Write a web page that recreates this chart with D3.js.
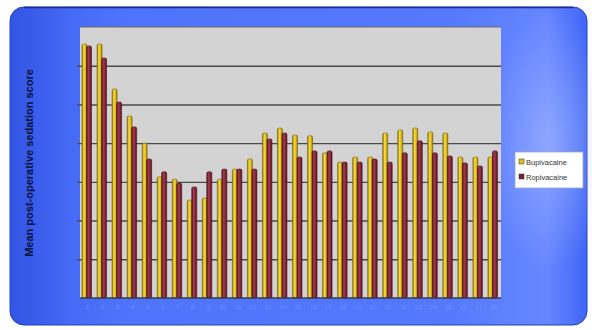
<!DOCTYPE html>
<html>
<head>
<meta charset="utf-8">
<script src="https://cdn.jsdelivr.net/npm/d3@7"></script>
<style>
  html, body { margin: 0; padding: 0; background: #ffffff; }
  svg { display: block; }
</style>
</head>
<body>
<svg id="chart" width="592" height="330"></svg>
<script>
// Observation points along the x axis
const categories = ["1","2","3","4","5","6","7","8","9","10","11","12","13","14",
                    "15","16","17","18","19","20","21","22","23","24","25","26","27","28"];
// Mean sedation score per observation point
const bupivacaine = [6.56, 6.56, 5.40, 4.70, 4.00, 3.13, 3.07, 2.53, 2.58, 3.07, 3.33, 3.59, 4.26, 4.39,
                     4.21, 4.19, 3.75, 3.51, 3.64, 3.64, 4.26, 4.34, 4.39, 4.29, 4.26, 3.64, 3.64, 3.64];
const ropivacaine = [6.51, 6.20, 5.06, 4.42, 3.59, 3.26, 2.97, 2.87, 3.26, 3.33, 3.33, 3.33, 4.11, 4.26,
                     3.64, 3.80, 3.80, 3.51, 3.51, 3.59, 3.51, 3.75, 4.06, 3.75, 3.67, 3.49, 3.41, 3.80];
const seriesNames = ["Bupivacaine", "Ropivacaine"];
const yTicks = [0, 1, 2, 3, 4, 5, 6, 7];
const yTitle = "Mean post-operative sedation score";

const svg = d3.select("#chart");
const defs = svg.append("defs");

// Blue panel gradient: darker on the left, glowing towards the right
const pg = defs.append("linearGradient").attr("id", "panelGrad")
  .attr("x1", "0").attr("x2", "1").attr("y1", "0").attr("y2", "0");
pg.append("stop").attr("offset", "0").attr("stop-color", "#3c60f0");
pg.append("stop").attr("offset", "0.2").attr("stop-color", "#4e74fb");
pg.append("stop").attr("offset", "0.75").attr("stop-color", "#5479fd");
pg.append("stop").attr("offset", "0.93").attr("stop-color", "#6686ff");
pg.append("stop").attr("offset", "1").attr("stop-color", "#4066f6");

const glow = defs.append("radialGradient").attr("id", "glow")
  .attr("cx", "0.5").attr("cy", "0.5").attr("r", "0.5");
glow.append("stop").attr("offset", "0").attr("stop-color", "#b8c8ff").attr("stop-opacity", 0.5);
glow.append("stop").attr("offset", "1").attr("stop-color", "#b8c8ff").attr("stop-opacity", 0);

const lg = defs.append("linearGradient").attr("id", "leftShade")
  .attr("x1", "0").attr("x2", "1");
lg.append("stop").attr("offset", "0").attr("stop-color", "#2a4ad8").attr("stop-opacity", 0.5);
lg.append("stop").attr("offset", "1").attr("stop-color", "#2a4ad8").attr("stop-opacity", 0);

// Cylinder-like shading for the bars
function barGrad(id, light, mid, dark) {
  const g = defs.append("linearGradient").attr("id", id).attr("x1", "0").attr("x2", "1");
  g.append("stop").attr("offset", "0").attr("stop-color", dark);
  g.append("stop").attr("offset", "0.35").attr("stop-color", light);
  g.append("stop").attr("offset", "0.7").attr("stop-color", mid);
  g.append("stop").attr("offset", "1").attr("stop-color", dark);
}
barGrad("gBup", "#f6dc3a", "#e0b818", "#8a7010");
barGrad("gRop", "#a33a4c", "#852838", "#4e1220");

const panel = { x: 10, y: 7, w: 577, h: 318 };
svg.append("rect").attr("x", panel.x).attr("y", panel.y)
  .attr("width", panel.w).attr("height", panel.h).attr("rx", 14)
  .attr("fill", "url(#panelGrad)").attr("stroke", "#1f3fc0").attr("stroke-width", 1);
svg.append("rect").attr("x", panel.x).attr("y", panel.y)
  .attr("width", 60).attr("height", panel.h).attr("rx", 14)
  .attr("fill", "url(#leftShade)");
svg.append("ellipse").attr("cx", 550).attr("cy", 140).attr("rx", 65).attr("ry", 130)
  .attr("fill", "url(#glow)");
svg.append("path")
  .attr("d", `M${panel.x + 14},${panel.y + 0.5} H${panel.x + panel.w - 14}`)
  .attr("stroke", "#1a2f9a").attr("stroke-width", 1.5);

// Plot area
const plot = { x: 80, y: 27, w: 421, h: 271 };
const x = d3.scaleBand().domain(categories).range([plot.x, plot.x + plot.w]).padding(0);
const y = d3.scaleLinear().domain([0, 7]).range([plot.y + plot.h, plot.y]);

svg.append("rect").attr("x", plot.x).attr("y", plot.y)
  .attr("width", plot.w).attr("height", plot.h).attr("fill", "#d3d3d3");
svg.append("line").attr("x1", plot.x).attr("x2", plot.x + plot.w)
  .attr("y1", plot.y).attr("y2", plot.y).attr("stroke", "#6a6a6a").attr("stroke-width", 1.2);

// Gridlines with small ticks to the left
const yAxis = d3.axisLeft(y).tickValues(yTicks).tickSize(-plot.w - 3).tickFormat("");
const gy = svg.append("g").attr("transform", `translate(${plot.x},0)`).call(yAxis);
gy.select(".domain").remove();
gy.selectAll(".tick line").attr("transform", "translate(-3,0)")
  .attr("stroke", "#4a4a4a").attr("stroke-width", 1.4)
  .attr("stroke-opacity", d => (d === 0 || d === 7) ? 0 : 1);

// Bars
const bw = 5;
const rows = categories.map((c, i) => ({ c, b: bupivacaine[i], r: ropivacaine[i] }));
const g = svg.append("g");
g.selectAll("rect.bup").data(rows).join("rect").attr("class", "bup")
  .attr("x", d => x(d.c) + 2).attr("width", bw)
  .attr("y", d => y(d.b)).attr("height", d => y(0) - y(d.b))
  .attr("rx", 1.5)
  .attr("fill", "url(#gBup)").attr("stroke", "#7a6410").attr("stroke-width", 0.6);
g.selectAll("rect.rop").data(rows).join("rect").attr("class", "rop")
  .attr("x", d => x(d.c) + 6.5).attr("width", bw)
  .attr("y", d => y(d.r)).attr("height", d => y(0) - y(d.r))
  .attr("rx", 1.5)
  .attr("fill", "url(#gRop)").attr("stroke", "#4a1020").attr("stroke-width", 0.6);

// Baseline
svg.append("line").attr("x1", plot.x).attr("x2", plot.x + plot.w)
  .attr("y1", y(0)).attr("y2", y(0)).attr("stroke", "#3a3a50").attr("stroke-width", 1.5);

// Category labels, faint under the plot
const xAxis = d3.axisBottom(x).tickSize(0);
const gx = svg.append("g").attr("transform", `translate(0,${y(0) + 4})`).call(xAxis);
gx.select(".domain").remove();
gx.selectAll("text").attr("fill", "#7090ff").attr("font-size", 6)
  .attr("font-family", "Liberation Sans, Arial, sans-serif");

// Axis title
svg.append("text")
  .attr("transform", `translate(33,163) rotate(-90)`)
  .attr("text-anchor", "middle")
  .attr("font-family", "Liberation Sans, Arial, sans-serif")
  .attr("font-weight", "bold").attr("font-size", 11)
  .attr("fill", "#0a1040")
  .text(yTitle);

// Legend
const lgX = 515, lgY = 152;
svg.append("rect").attr("x", lgX).attr("y", lgY).attr("width", 68).attr("height", 36)
  .attr("fill", "#ffffff").attr("stroke", "#9aa6c8").attr("stroke-width", 0.8);
const colors = ["#e2bc1c", "#7a2035"];
seriesNames.forEach((n, i) => {
  const yy = lgY + 11 + i * 15;
  svg.append("rect").attr("x", lgX + 4).attr("y", yy - 4).attr("width", 5).attr("height", 5)
    .attr("fill", colors[i]).attr("stroke", "#333").attr("stroke-width", 0.5);
  svg.append("text").attr("x", lgX + 11).attr("y", yy + 1.5)
    .attr("font-family", "Liberation Sans, Arial, sans-serif")
    .attr("font-size", 7.5).attr("fill", "#333")
    .text(n);
});
</script>
</body>
</html>
